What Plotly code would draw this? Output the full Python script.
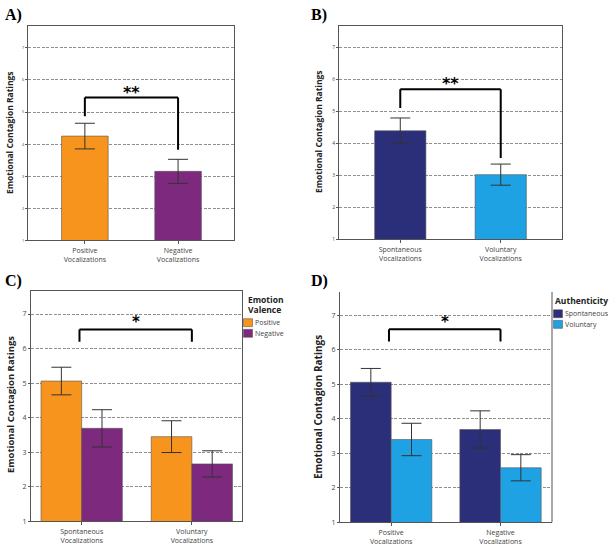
import plotly.graph_objects as go

W, H = 612, 559

# ---------------- data ----------------
a_cats = ["Positive<br>Vocalizations", "Negative<br>Vocalizations"]
a_means = [4.25, 3.15]
a_err = [0.40, 0.375]

b_cats = ["Spontaneous<br>Vocalizations", "Voluntary<br>Vocalizations"]
b_means = [4.39, 3.02]
b_err = [0.40, 0.33]

c_cats = ["Spontaneous<br>Vocalizations", "Voluntary<br>Vocalizations"]
c_positive = [5.06, 3.45]
c_positive_err = [0.40, 0.46]
c_negative = [3.69, 2.66]
c_negative_err = [0.54, 0.38]

d_cats = ["Positive<br>Vocalizations", "Negative<br>Vocalizations"]
d_spont = [5.06, 3.69]
d_spont_err = [0.40, 0.54]
d_vol = [3.40, 2.58]
d_vol_err = [0.47, 0.38]

y_ticks = [1, 2, 3, 4, 5, 6, 7]

c_legend_title = ["Emotion", "Valence"]
c_series_names = ["Positive", "Negative"]
d_legend_title = ["Authenticity"]
d_series_names = ["Spontaneous", "Voluntary"]

ORANGE = "#F7941D"
PURPLE = "#7D2A7E"
NAVY = "#2B2E78"
LBLUE = "#1EA2E4"

fig = go.Figure()

def eb(arr):
    return dict(type="data", array=arr, visible=True, color="#333333", thickness=1, width=10)

BL = dict(color="#555", width=0.6)

# Panel A
fig.add_trace(go.Bar(x=a_cats, y=a_means, error_y=eb(a_err), marker=dict(color=[ORANGE, PURPLE], line=BL),
                     width=0.5, showlegend=False, xaxis="x", yaxis="y"))
# Panel B
fig.add_trace(go.Bar(x=b_cats, y=b_means, error_y=eb(b_err), marker=dict(color=[NAVY, LBLUE], line=BL),
                     width=0.51, showlegend=False, xaxis="x2", yaxis="y2"))
# Panel C
cw = 0.369
fig.add_trace(go.Bar(x=c_cats, y=c_positive, error_y=eb(c_positive_err), name=c_series_names[0],
                     marker=dict(color=ORANGE, line=BL), width=cw, offset=-cw, xaxis="x3", yaxis="y3", showlegend=False))
fig.add_trace(go.Bar(x=c_cats, y=c_negative, error_y=eb(c_negative_err), name=c_series_names[1],
                     marker=dict(color=PURPLE, line=BL), width=cw, offset=0, xaxis="x3", yaxis="y3", showlegend=False))
# Panel D
dw = 0.372
fig.add_trace(go.Bar(x=d_cats, y=d_spont, error_y=eb(d_spont_err), name=d_series_names[0],
                     marker=dict(color=NAVY, line=BL), width=dw, offset=-dw, xaxis="x4", yaxis="y4", showlegend=False))
fig.add_trace(go.Bar(x=d_cats, y=d_vol, error_y=eb(d_vol_err), name=d_series_names[1],
                     marker=dict(color=LBLUE, line=BL), width=dw, offset=0, xaxis="x4", yaxis="y4", showlegend=False))

def px_x(a, b):
    return [a / W, b / W]

def px_y(top, bottom):
    return [1 - bottom / H, 1 - top / H]

def xax(domain, rng, anchor, fs, mirror=True):
    return dict(domain=domain, range=rng, anchor=anchor, showline=True, linecolor="#555", linewidth=1,
                mirror=mirror, ticks="outside", ticklen=3, tickcolor="#555", showgrid=False,
                tickfont=dict(family="Open Sans", size=fs, color="#444"), fixedrange=True)

def yax(domain, rng, anchor, fs, mirror=True):
    return dict(domain=domain, range=rng, anchor=anchor, showline=True, linecolor="#555", linewidth=1,
                mirror=mirror, ticks="outside", ticklen=2, tickcolor="#555", tickvals=y_ticks,
                showgrid=True, gridcolor="#8f8f8f", griddash="3px,1.5px", gridwidth=1,
                tickfont=dict(family="Open Sans", size=fs, color="#444"), zeroline=False)

layout = dict(
    width=W, height=H, margin=dict(l=0, r=0, t=0, b=0),
    paper_bgcolor="white", plot_bgcolor="white", barmode="overlay", showlegend=False,
    xaxis=xax(px_x(28, 234), [-0.61, 1.60], "y", 7),
    yaxis=yax(px_y(26, 242), [1, 7.69], "x", 4),
    xaxis2=xax(px_x(339, 562), [-0.61, 1.61], "y2", 7),
    yaxis2=yax(px_y(26, 241), [1, 7.67], "x2", 5),
    xaxis3=xax(px_x(31, 242), [-0.46, 1.455], "y3", 7),
    yaxis3=yax(px_y(293, 525), [1, 7.67], "x3", 7),
    xaxis4=xax(px_x(340, 552), [-0.468, 1.471], "y4", 7, mirror=False),
    yaxis4=yax(px_y(294, 526), [1, 7.68], "x4", 7, mirror=False),
)
fig.update_layout(**layout)

# right border line for panel D
fig.add_shape(type="line", xref="paper", yref="paper", x0=552 / W, x1=552 / W, y0=1 - 526 / H, y1=1 - 294 / H,
              line=dict(color="#555", width=1))

# legends (drawn as key boxes + text)
def legend(title_lines, title_x, title_y, names, colors, sw_x, first_y, step):
    for j, t in enumerate(title_lines):
        fig.add_annotation(xref="paper", yref="paper", x=title_x / W, y=1 - (title_y + j * 10) / H,
                           text="<b>%s</b>" % t, xanchor="left", yanchor="middle", showarrow=False,
                           font=dict(family="Open Sans", size=8.5, color="#222"))
    for i, (n, c) in enumerate(zip(names, colors)):
        yc = first_y + i * step
        fig.add_shape(type="rect", xref="paper", yref="paper", x0=sw_x / W, x1=(sw_x + 9) / W,
                      y0=1 - (yc + 4) / H, y1=1 - (yc - 4) / H, fillcolor=c, line=dict(color="#444", width=0.5))
        fig.add_annotation(xref="paper", yref="paper", x=(sw_x + 9.5) / W, y=1 - yc / H, text=n,
                           xanchor="left", yanchor="middle", showarrow=False,
                           font=dict(family="Open Sans", size=7, color="#444"))

legend(c_legend_title, 245.5, 302, c_series_names, [ORANGE, PURPLE], 243.5, 325, 10.7)
legend(d_legend_title, 553, 302.5, d_series_names, [NAVY, LBLUE], 553.5, 316, 10.7)

# significance brackets
def bracket(xr, yr, x0, x1, ytop, yl, yr_, label, fs, ylab):
    for (xa, xb, ya, yb) in [(x0, x0, yl, ytop), (x0, x1, ytop, ytop), (x1, x1, ytop, yr_)]:
        fig.add_shape(type="line", xref=xr, yref=yr, x0=xa, x1=xb, y0=ya, y1=yb,
                      line=dict(color="black", width=2))
    fig.add_annotation(xref=xr, yref=yr, x=(x0 + x1) / 2, y=ylab, text="<b>%s</b>" % label, showarrow=False,
                       xanchor="center", yanchor="middle",
                       font=dict(family="DejaVu Sans", size=fs, color="black"))

bracket("x", "y", 0, 1, 5.45, 4.87, 3.82, "**", 16, 5.62)
bracket("x2", "y2", 0, 1, 5.69, 5.10, 3.54, "**", 16, 5.86)
bracket("x3", "y3", -0.02, 1.0, 6.55, 6.20, 6.20, "*", 15, 6.78)
bracket("x4", "y4", -0.02, 1.0, 6.60, 6.24, 6.24, "*", 15, 6.80)

# y-axis titles
for (xp, yp, fs) in [(9, 134, 8.5), (318, 133, 8.5), (10, 408, 9.5), (318, 410, 10)]:
    fig.add_annotation(xref="paper", yref="paper", x=xp / W, y=1 - yp / H, text="<b>Emotional Contagion Ratings</b>",
                       textangle=-90, showarrow=False, xanchor="center", yanchor="middle",
                       font=dict(family="Open Sans", size=fs, color="#222"))

# panel labels
for (lab, xp, yp) in [("A)", 3, 15), ("B)", 309, 15), ("C)", 3, 283), ("D)", 309, 283)]:
    fig.add_annotation(xref="paper", yref="paper", x=xp / W, y=1 - yp / H, text="<b>%s</b>" % lab,
                       xanchor="left", yanchor="middle",
                       showarrow=False, font=dict(family="Liberation Serif", size=16, color="black"))

fig.write_html("out.html")
